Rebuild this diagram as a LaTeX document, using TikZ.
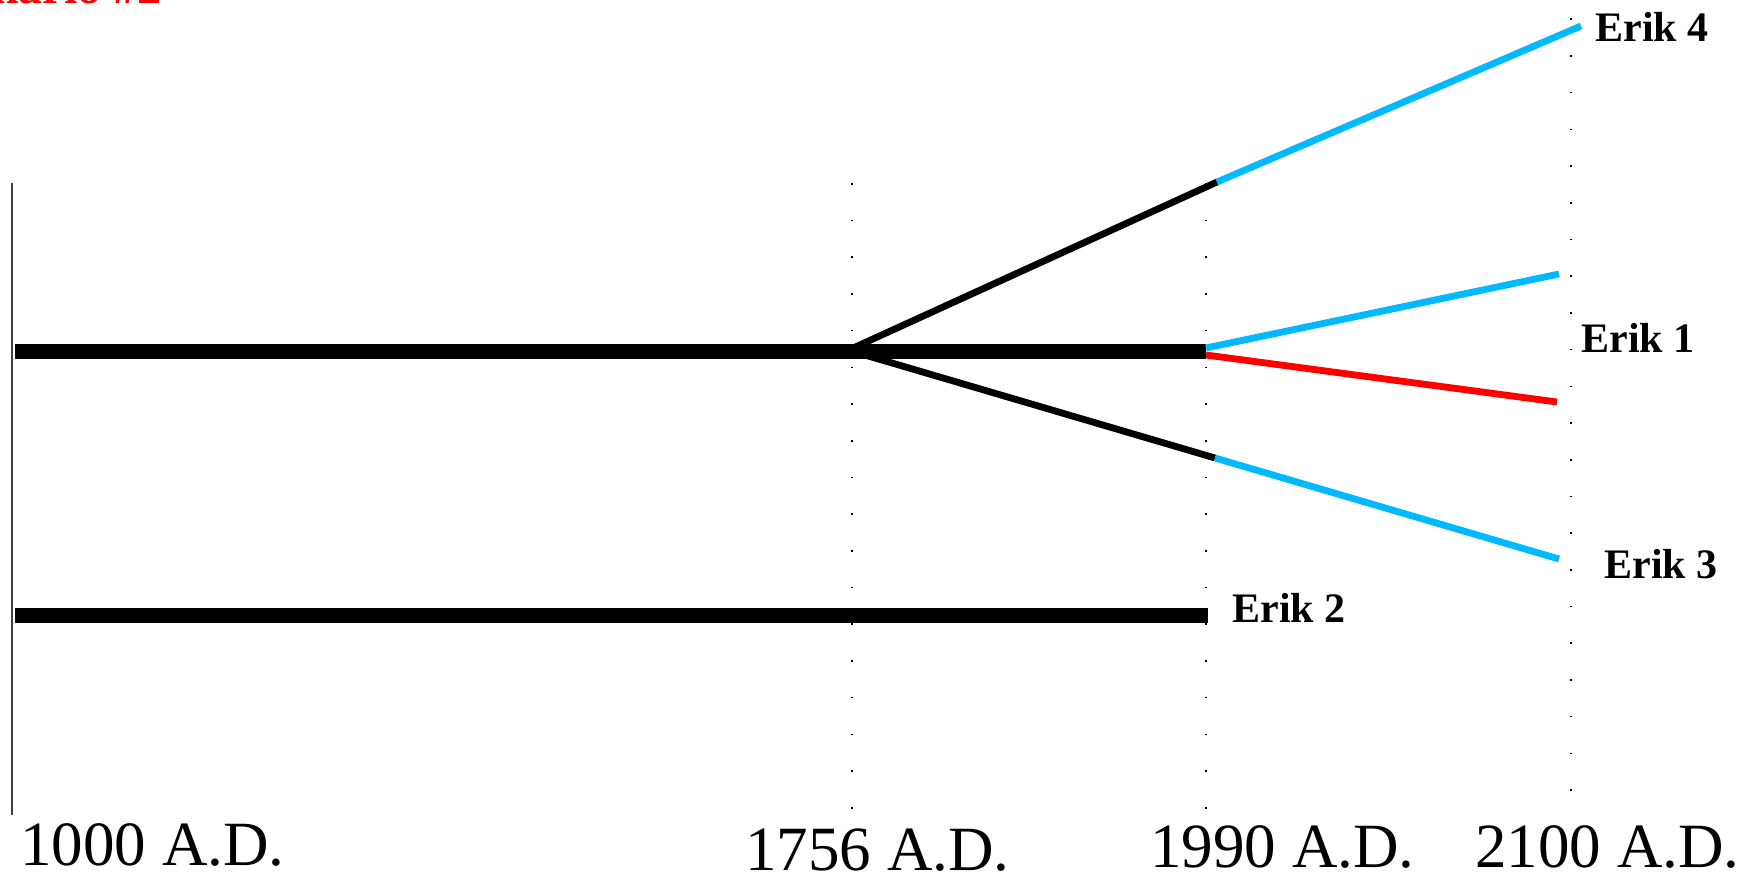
\documentclass[tikz,border=0pt]{standalone}
\usepackage{fontspec}
\setmainfont{Liberation Serif}
\definecolor{skyb}{RGB}{0,185,255}
\definecolor{rd}{RGB}{255,0,0}
\begin{document}
\begin{tikzpicture}[x=0.5pt,y=-0.5pt,
  thick line/.style={line width=7.5pt,black},
  branch/.style={line width=3.4pt},
  dotline/.style={black,line width=0.8pt,dash pattern=on 0.8pt off 17.55pt},
  erik/.style={anchor=base west,inner sep=0pt,font=\fontsize{21}{25}\selectfont\bfseries},
  year/.style={anchor=base west,inner sep=0pt,font=\fontsize{31.5}{36}\selectfont},
  title/.style={anchor=base east,inner sep=0pt,text=rd,font=\fontsize{24}{28}\selectfont\bfseries}]
\useasboundingbox (0,0) rectangle (1764,877);
\clip (0,0) rectangle (1764,877);

% axis and dotted guides
\coordinate (axT) at (12,183);
\coordinate (axB) at (12,815);
\draw[line width=0.8pt,black!75] (axT) -- (axB);

\coordinate (g1T) at (852,183);  \coordinate (g1B) at (852,810);
\coordinate (g2T) at (1206,183); \coordinate (g2B) at (1206,810);
\coordinate (g3T) at (1571,18.5); \coordinate (g3B) at (1571,792);
\draw[dotline] (g1T) -- (g1B);
\draw[dotline] (g2T) -- (g2B);
\draw[dotline] (g3T) -- (g3B);

% main timeline points
\coordinate (m0) at (15,351);
\coordinate (mBu) at (851,349);
\coordinate (mBl) at (858,353);
\coordinate (m1) at (1206,351);
\coordinate (up1) at (1217,182);
\coordinate (lo1) at (1215,458);
\coordinate (e4) at (1581,26);
\coordinate (e1a) at (1559,274);
\coordinate (e1b) at (1557,402);
\coordinate (e3) at (1559,559);
\coordinate (s0) at (15,615);
\coordinate (s1) at (1208,615);

% thick lines
\draw[thick line] (m0) -- (m1);
\draw[thick line] (s0) -- (s1);

% branches
\draw[branch,black] (mBu) -- (up1);
\draw[branch,black] (mBl) -- (lo1);
\draw[branch,skyb] (up1) -- (e4);
\draw[branch,skyb] (lo1) -- (e3);
\draw[branch,skyb] ([yshift=1.5]m1) -- (e1a);
\draw[branch,rd] ([yshift=-2]m1) -- (e1b);

% labels
\node[erik] (l4) at (1595,42) {Erik 4};
\node[erik] (l1) at (1581,352) {Erik 1};
\node[erik] (l3) at (1604,578) {Erik 3};
\node[erik] (l2) at (1232,622) {Erik 2};

\node[year] (y1) at (20,865) {1000 A.D.};
\node[year] (y2) at (745,870) {1756 A.D.};
\node[year] (y3) at (1150,867) {1990 A.D.};
\node[year] (y4) at (1475,867) {2100 A.D.};

\node[title] (tt) at (162,4) {Scenario \#2};
\end{tikzpicture}
\end{document}
